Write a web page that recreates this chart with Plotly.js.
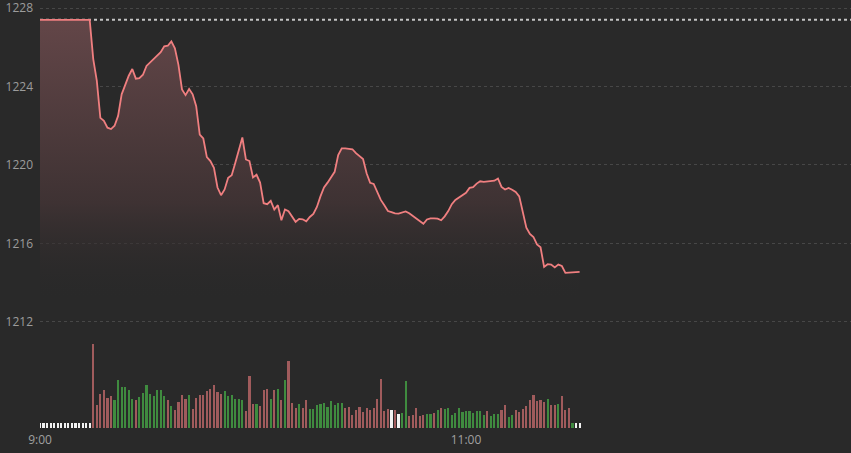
<!DOCTYPE html>
<html>
<head>
<meta charset="utf-8">
<script src="https://cdn.plot.ly/plotly-3.0.1.min.js"></script>
<style>
  html, body { margin: 0; padding: 0; background: #292929; }
  #chart { width: 851px; height: 453px; }
</style>
</head>
<body>
<div id="chart"></div>
<script>
// ---- data (minutes after 9:00, one point per minute) ----
const prevClose = 1227.4;

const price = [
  1227.4, 1227.4, 1227.4, 1227.4, 1227.4, 1227.4, 1227.4, 1227.4, 1227.4, 1227.4,
  1227.4, 1227.4, 1227.4, 1227.4, 1227.4, 1225.4, 1224.3, 1222.4, 1222.25, 1221.9,
  1221.83, 1222.0, 1222.5, 1223.6, 1224.1, 1224.55, 1224.89, 1224.4, 1224.42, 1224.6,
  1225.05, 1225.23, 1225.4, 1225.6, 1225.75, 1226.05, 1226.08, 1226.3, 1225.95, 1225.1,
  1223.85, 1223.56, 1223.87, 1223.6, 1223.0, 1221.55, 1221.35, 1220.4, 1220.2, 1219.85,
  1218.85, 1218.46, 1218.75, 1219.35, 1219.48, 1220.1, 1220.7, 1221.4, 1220.28, 1220.2,
  1219.36, 1219.5, 1219.1, 1218.05, 1218.0, 1218.17, 1217.73, 1217.95, 1217.18, 1217.73,
  1217.64, 1217.4, 1217.1, 1217.25, 1217.23, 1217.13, 1217.35, 1217.5, 1217.86, 1218.4,
  1218.85, 1219.1, 1219.38, 1219.65, 1220.5, 1220.85, 1220.85, 1220.84, 1220.8, 1220.6,
  1220.45, 1220.3, 1219.58, 1219.09, 1219.03, 1218.63, 1218.22, 1217.95, 1217.65, 1217.6,
  1217.53, 1217.52, 1217.58, 1217.63, 1217.54, 1217.4, 1217.24, 1217.1, 1217.0, 1217.22,
  1217.28, 1217.28, 1217.26, 1217.18, 1217.38, 1217.65, 1218.0, 1218.22, 1218.33, 1218.43,
  1218.58, 1218.83, 1218.87, 1219.05, 1219.17, 1219.14, 1219.15, 1219.19, 1219.2, 1219.31,
  1218.88, 1218.75, 1218.83, 1218.74, 1218.62, 1218.4, 1217.65, 1216.8, 1216.48, 1216.33,
  1215.95, 1215.8, 1214.8, 1214.94, 1214.92, 1214.78, 1214.92, 1214.85, 1214.5, 1214.51,
  1214.55, 1214.55, 1214.55
];

const volume = [
  53, 53, 53, 53, 53, 53, 53, 53, 53, 53, 53, 53, 53, 53, 53,
  843, 233, 340, 377, 303, 317,
  277, 483, 410, 410, 377, 290,
  277, 310, 353, 427, 343, 317, 383, 383, 317,
  277, 217, 177, 257, 333, 293,
  327, 193, 303, 333, 327, 367, 393, 427, 357, 343,
  367, 317, 327, 290, 287, 277,
  170, 517, 237, 243, 217, 383, 393,
  287, 383, 393, 277, 483, 667, 250, 203, 237,
  203, 277, 193, 193, 233, 243, 250, 210, 273, 233, 253, 250,
  200, 210, 130, 183, 210, 157, 200, 180, 200, 293, 493, 170, 193,
  183, 183, 143, 153, 467, 117, 127, 203, 117, 127,
  143, 143, 153, 183, 203, 187, 203, 133, 153, 197, 157, 167, 173, 153, 167, 167, 133,
  167, 117, 143, 143, 177, 227, 110, 133, 177, 160,
  187, 217, 277, 333, 267, 277, 257, 293, 227, 233, 243, 323, 183, 200,
  53, 53, 53
];

// per-minute direction: u = up, d = down, f = unchanged
const volDir = (
  "fffffffffffffff" + "dddddd" + "uuuuuu" + "d" + "uuuuuuuu" + "d" + "u" + "dddd" + "u" +
  "ddddddddd" + "uuuuuu" + "ddd" + "u" + "ddd" + "u" + "d" + "u" + "d" + "u" + "ddd" + "u" +
  "dd" + "uuuuuuuuuu" + "ddddddddddddd" + "f" + "d" + "f" + "uu" + "ddddd" + "uu" +
  "d" + "u" + "d" + "uuuuuuuuuuuu" + "d" + "uuu" + "dd" + "uu" + "ddddddddd" + "u" + "dd" +
  "u" + "ddd" + "u" + "ff"
).split("");

const tickMinutes = [0, 120];
const tickLabels = ["9:00", "11:00"];
const priceTicks = [1212, 1216, 1220, 1224, 1228];

// ---- build ----
const minutes = price.map((_, i) => i);
const dirColor = { u: "#3f8b3f", d: "#a05b5c", f: "#f2f2f2" };

const traces = [
  {
    type: "scatter",
    mode: "lines",
    x: minutes,
    y: price,
    xaxis: "x",
    yaxis: "y",
    line: { color: "#f07f80", width: 1.8 },
    fill: "tozeroy",
    fillgradient: {
      type: "vertical",
      start: 1213.0,
      stop: 1227.4,
      colorscale: [[0, "rgba(41,41,41,0)"], [0.35, "rgba(62,50,51,1)"], [1, "rgba(99,70,72,1)"]]
    },
    hoverinfo: "skip",
    showlegend: false
  },
  {
    type: "bar",
    x: minutes,
    y: volume,
    xaxis: "x",
    yaxis: "y2",
    width: 0.6,
    marker: { color: volDir.map(d => dirColor[d]), line: { width: 0 } },
    hoverinfo: "skip",
    showlegend: false
  }
];

const layout = {
  width: 851,
  height: 453,
  margin: { l: 40, r: 0, t: 0, b: 25, pad: 0 },
  paper_bgcolor: "#292929",
  plot_bgcolor: "#292929",
  showlegend: false,
  hovermode: false,
  bargap: 0,
  font: { family: "Open Sans, Noto Sans, sans-serif", color: "#9c9c9c", size: 11 },
  xaxis: {
    range: [0, 228.45],
    showgrid: false,
    zeroline: false,
    showline: false,
    ticks: "",
    tickmode: "array",
    tickvals: tickMinutes,
    ticktext: tickLabels,
    ticklabelstandoff: 3,
    ticklabeloverflow: "allow",
    tickfont: { size: 12, color: "#a0a0a0" },
    fixedrange: true
  },
  yaxis: {
    range: [1206.59, 1228.41],
    tickmode: "array",
    tickvals: priceTicks,
    ticktext: priceTicks.map(String),
    showgrid: true,
    gridcolor: "#474747",
    gridwidth: 1,
    griddash: "3px,3px",
    zeroline: false,
    showline: false,
    ticks: "",
    ticklabelstandoff: 6,
    ticklabeloverflow: "allow",
    tickfont: { size: 12, color: "#9c9c9c" },
    fixedrange: true
  },
  yaxis2: {
    overlaying: "y",
    range: [0, 4280],
    visible: false,
    showgrid: false,
    zeroline: false,
    fixedrange: true
  },
  shapes: [
    {
      type: "line",
      xref: "paper",
      x0: 0,
      x1: 1,
      yref: "y",
      y0: prevClose,
      y1: prevClose,
      layer: "below",
      line: { color: "#c4c4c4", width: 2, dash: "3px,3px" }
    }
  ]
};

Plotly.newPlot("chart", traces, layout, { displayModeBar: false, staticPlot: true });
</script>
</body>
</html>
